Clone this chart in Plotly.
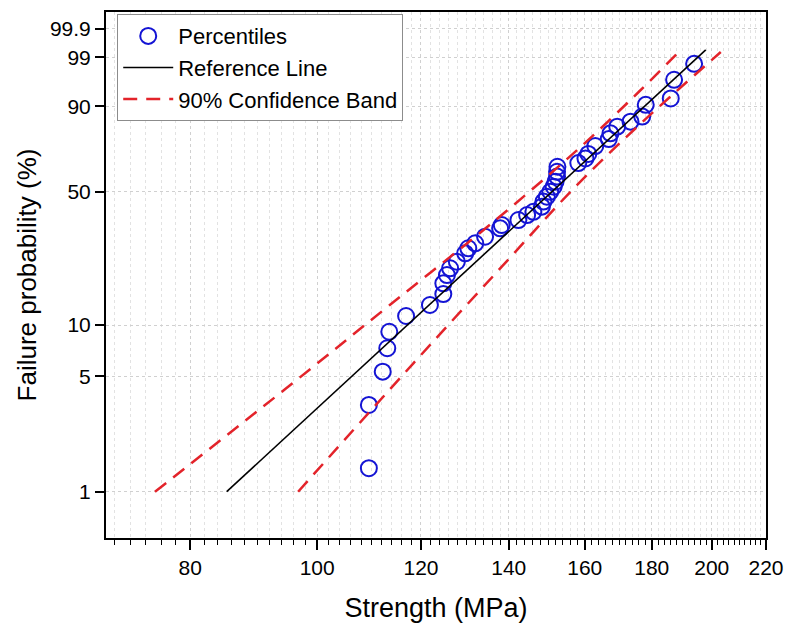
import numpy as np
import plotly.graph_objects as go

# ---- data ----
strength = [109.5, 109.5, 112.2, 113.1, 113.5, 116.9, 121.9, 124.8, 124.8, 125.6,
            126.3, 127.8, 129.7, 130.4, 132.0, 134.3, 137.9, 138.3, 142.4, 144.6,
            146.2, 148.4, 148.8, 149.7, 150.6, 151.5, 152.0, 152.4, 152.4, 152.5,
            158.2, 160.2, 161.0, 163.0, 166.9, 167.4, 169.4, 173.4, 177.0, 178.1,
            186.1, 187.2, 193.9]
failure_pct = [1.39, 3.36, 5.32, 7.32, 9.15, 11.29, 13.06, 15.07, 17.3, 19.23,
               20.93, 22.72, 25.18, 26.75, 28.4, 30.7, 33.8, 35.1, 37.1, 39.2,
               40.6, 42.9, 45.2, 47.5, 49.9, 52.4, 54.9, 57.5, 60.0, 62.6,
               64.5, 66.9, 69.2, 73.2, 76.6, 79.3, 82.3, 84.4, 86.4, 90.5,
               92.4, 96.5, 98.5]

ref_strength = [85.3, 197.9]
ref_pct = [1.0, 99.4]

upper_strength = [75.2, 94.7, 113.6, 137.4, 158.8, 175.9, 189.4]
upper_pct = [1.0, 4.23, 13.06, 37.95, 72.7, 94.05, 99.4]
lower_strength = [96.7, 118.4, 138.3, 157.4, 175.5, 203.2]
lower_pct = [1.0, 5.96, 21.35, 52.4, 82.3, 99.3]

y_tick_pct = [1, 5, 10, 50, 90, 99, 99.9]
y_tick_text = ["1", "5", "10", "50", "90", "99", "99.9"]
x_tick_vals = [80, 100, 120, 140, 160, 180, 200, 220]
x_minor_vals = [v for v in range(70, 220, 2) if v not in x_tick_vals]


def weib(p):
    p = np.asarray(p, dtype=float) / 100.0
    return np.log(-np.log(1.0 - p))


FONT = "Liberation Sans, Arial, sans-serif"
BLUE = "#1414d4"
RED = "#e3232a"
fig = go.Figure()

fig.add_trace(go.Scatter(
    x=strength, y=weib(failure_pct), mode="markers", name="Percentiles",
    marker=dict(symbol="circle-open", size=16, color=BLUE,
                line=dict(width=2, color=BLUE)),
))
fig.add_trace(go.Scatter(
    x=ref_strength, y=weib(ref_pct), mode="lines", name="Reference Line",
    line=dict(color="black", width=1.6),
))
fig.add_trace(go.Scatter(
    x=upper_strength, y=weib(upper_pct), mode="lines", name="90% Confidence Band",
    legendgroup="band", line=dict(color=RED, width=2.5, dash="14px,9px", shape="spline"),
))
fig.add_trace(go.Scatter(
    x=lower_strength, y=weib(lower_pct), mode="lines", name="90% Confidence Band",
    legendgroup="band", showlegend=False,
    line=dict(color=RED, width=2.5, dash="14px,9px", shape="spline"),
))

fig.update_layout(
    width=785, height=628,
    margin=dict(l=106, r=19, t=12, b=90),
    paper_bgcolor="white", plot_bgcolor="white",
    font=dict(family=FONT, size=21, color="black"),
    showlegend=True,
    legend=dict(x=0.017, y=0.996, xanchor="left", yanchor="top",
                bgcolor="white", bordercolor="#8c8c8c", borderwidth=1,
                font=dict(family=FONT, size=22, color="black"),
                itemwidth=50, tracegroupgap=0),
)

fig.update_xaxes(
    type="log", range=[np.log10(69), np.log10(220)], automargin=False,
    tickmode="array", tickvals=x_tick_vals, ticktext=[str(v) for v in x_tick_vals],
    ticks="outside", ticklen=10, tickwidth=1.5, tickcolor="black",
    showline=True, linecolor="black", linewidth=2, mirror=True,
    showgrid=True, gridcolor="#d0d0d0", griddash="dot", gridwidth=1,
    zeroline=False,
    minor=dict(tickmode="array", tickvals=x_minor_vals, ticks="outside",
               ticklen=5, tickwidth=1.2, tickcolor="black",
               showgrid=True, gridcolor="#e2e2e2", griddash="dot", gridwidth=1),
    title=dict(text="Strength (MPa)", font=dict(family=FONT, size=27), standoff=20),
    tickfont=dict(family=FONT, size=21),
)
fig.update_yaxes(
    range=[-5.253, 2.166], automargin=False,
    tickmode="array", tickvals=weib(y_tick_pct), ticktext=y_tick_text,
    ticks="outside", ticklen=9, tickwidth=1.5, tickcolor="black",
    showline=True, linecolor="black", linewidth=2, mirror=True,
    showgrid=True, gridcolor="#d0d0d0", griddash="dot", gridwidth=1,
    zeroline=False,
    title=dict(text="Failure probability (%)", font=dict(family=FONT, size=26), standoff=6),
    tickfont=dict(family=FONT, size=21),
)

fig.write_html("out.html")
